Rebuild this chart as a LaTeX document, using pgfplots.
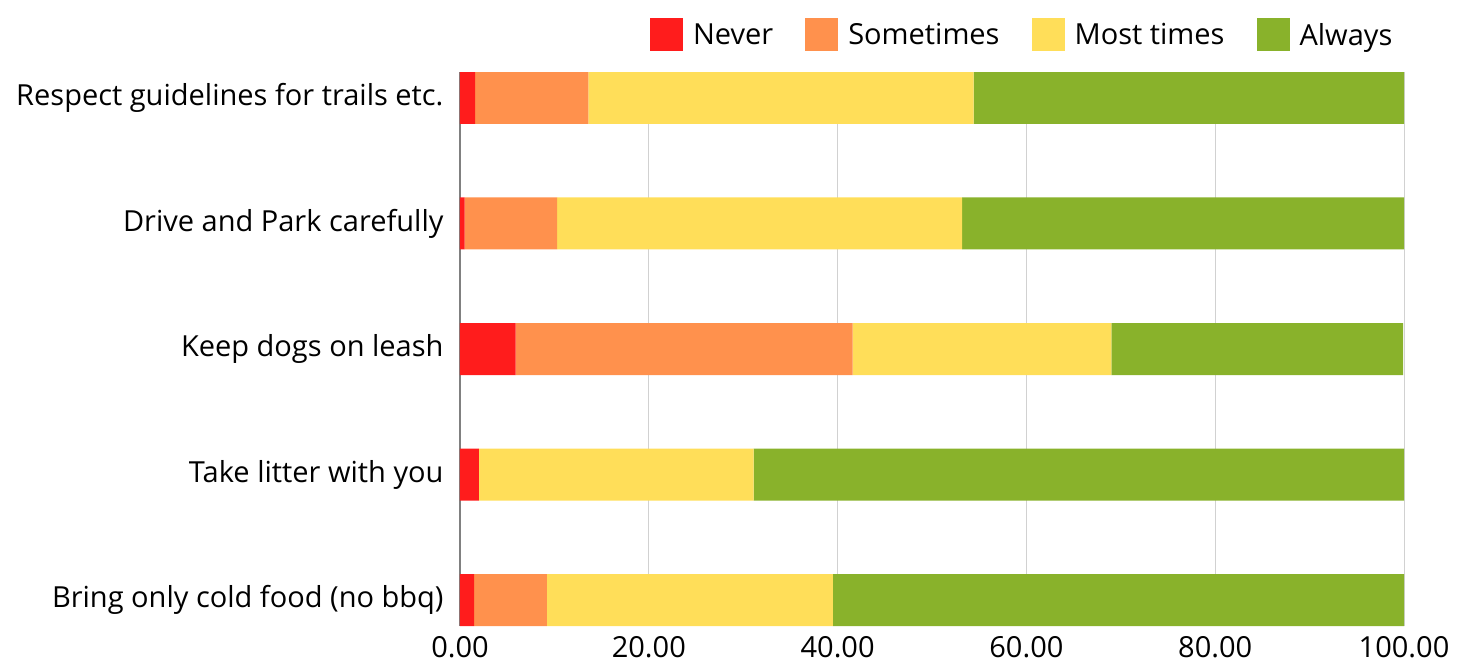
\documentclass[border=0pt]{standalone}
\usepackage{pgfplots}
\pgfplotsset{compat=1.18}
\usepackage{fontspec}
\setmainfont{Open Sans}

\definecolor{cNever}{HTML}{FF1C1C}
\definecolor{cSome}{HTML}{FF914D}
\definecolor{cMost}{HTML}{FFDE59}
\definecolor{cAlways}{HTML}{89B22B}

\begin{document}
\begin{tikzpicture}[x=1pt,y=1pt]
\useasboundingbox (0,0) rectangle (1468,664);
\begin{axis}[
  at={(460pt,38pt)}, anchor=south west,
  width=944pt, height=554pt, scale only axis,
  xbar stacked, bar width=52pt,
  xmin=0, xmax=100, ymin=-0.207, ymax=4.207, y dir=reverse,
  ytick={0,1,2,3,4},
  yticklabels={Respect guidelines for trails etc., Drive and Park carefully, Keep dogs on leash, Take litter with you, Bring only cold food (no bbq)},
  xtick={0,20,40,60,80,100},
  /pgf/number format/assume math mode=true,
  /pgf/number format/fixed, /pgf/number format/fixed zerofill,
  /pgf/number format/precision=2,
  major tick length=0pt,
  tick label style={font=\fontsize{29}{33}\selectfont},
  yticklabel style={xshift=-13pt},
  xticklabel style={yshift=-9pt, inner sep=1pt},
  axis line style={draw=none},
  xmajorgrids, grid style={draw=black!18, line width=1pt},
  extra x ticks={0}, extra x tick labels={},
  extra x tick style={grid style={draw=black!50, line width=1.6pt}},
  legend columns=4,
  legend style={at={(axis description cs:0.99,1.097)}, anchor=north east,
    draw=none, fill=none, inner sep=0pt,
    font=\fontsize{29}{33}\selectfont,
    /tikz/every odd column/.append style={column sep=8pt},
    /tikz/every even column/.append style={column sep=30pt}},
  legend image code/.code={\fill[#1] (0pt,-16.5pt) rectangle (33pt,16.5pt);},
]
\addplot[fill=cNever, draw=none] coordinates {(1.6,0) (0.5,1) (5.9,2) (2.0,3) (1.5,4)};
\addplot[fill=cSome, draw=none] coordinates {(12.0,0) (9.8,1) (35.7,2) (0,3) (7.7,4)};
\addplot[fill=cMost, draw=none] coordinates {(40.8,0) (42.9,1) (27.4,2) (29.1,3) (30.3,4)};
\addplot[fill=cAlways, draw=none] coordinates {(45.6,0) (46.8,1) (30.9,2) (68.9,3) (60.5,4)};
\legend{Never, Sometimes, Most times, Always}
\end{axis}
\end{tikzpicture}
\end{document}
